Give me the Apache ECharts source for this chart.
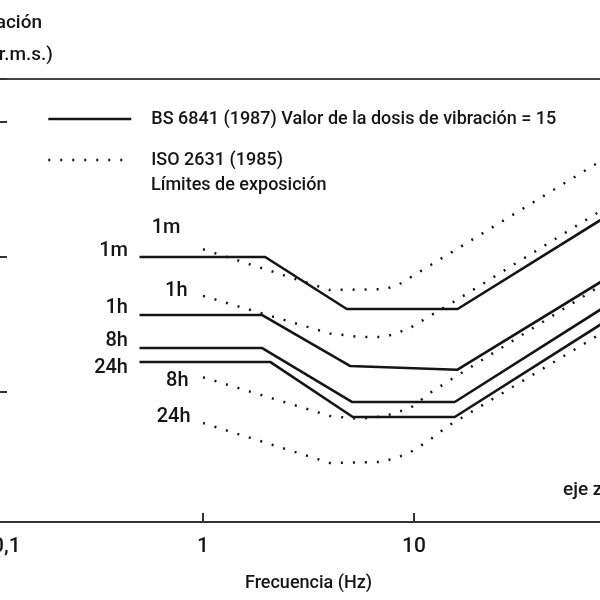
<!DOCTYPE html>
<html><head><meta charset="utf-8">
<script src="https://cdn.jsdelivr.net/npm/echarts@6/dist/echarts.min.js"></script>
<style>html,body{margin:0;padding:0;background:#fff}#c{width:600px;height:600px}</style>
</head><body><div id="c"></div>
<script>
// ---- data ----
const durations = ['1m', '1h', '8h', '24h'];
const bsName = 'BS 6841 (1987) Valor de la dosis de vibración = 15';
const isoName = 'ISO 2631 (1985)';
const isoSubtitle = 'Límites de exposición';
const xTickLabels = ['0,1', '1', '10', '100'];
const xAxisName = 'Frecuencia (Hz)';
const yAxisNameLines = ['Aceleración', '(m/s² r.m.s.)'];
const axisNote = 'eje z';

// BS 6841 (solid) : frequency (Hz) / acceleration (m/s² r.m.s.)
const bsFreq1m = [0.5, 1.97, 4.8, 16.1, 80];
const bsAcc1m = [10.0, 10.0, 4.12, 4.12, 19.6];
const bsFreq1h = [0.5, 1.9, 4.97, 16.0, 80];
const bsAcc1h = [3.72, 3.72, 1.56, 1.46, 6.8];
const bsFreq8h = [0.5, 1.9, 5.1, 15.6, 80];
const bsAcc8h = [2.12, 2.12, 0.843, 0.843, 4.26];
const bsFreq24h = [0.5, 2.08, 5.13, 15.6, 80];
const bsAcc24h = [1.67, 1.67, 0.653, 0.653, 3.3];

// ISO 2631 (dotted)
const isoFreq1m = [1, 4, 7.3, 8.4, 80];
const isoAcc1m = [11.4, 5.69, 5.79, 6.2, 53.5];
const isoFreq1h = [1, 4, 5.5, 7.3, 9.4, 11.9, 15.1, 80];
const isoAcc1h = [5.15, 2.71, 2.56, 2.56, 2.93, 3.66, 4.56, 22.9];
const isoFreq8h = [1, 4, 5.5, 7.3, 9.6, 11.9, 15.1, 80];
const isoAcc8h = [1.285, 0.664, 0.631, 0.664, 0.761, 0.983, 1.248, 6.4];
const isoFreq24h = [1, 4, 7.05, 9.3, 11.7, 14.5, 80];
const isoAcc24h = [0.589, 0.298, 0.303, 0.347, 0.434, 0.56, 2.81];

// ---- styling ----
const FONT = "Roboto, 'Liberation Sans', sans-serif";
const WEIGHT = 500;
const INK = '#151515';
const CLEAR = 'rgba(0,0,0,0)';
const bsLabelOffsets = [[0, -6], [0, -7], [0, -7], [0, 6]];
const isoLabelDist = [22, 15, 14, 12];
const isoLabelOffsets = [[0, -21], [0, -5], [0, 4], [0, -6]];

const bsSets = [[bsFreq1m, bsAcc1m], [bsFreq1h, bsAcc1h], [bsFreq8h, bsAcc8h], [bsFreq24h, bsAcc24h]];
const isoSets = [[isoFreq1m, isoAcc1m], [isoFreq1h, isoAcc1h], [isoFreq8h, isoAcc8h], [isoFreq24h, isoAcc24h]];

function buildData(freqs, accs, labelText, labelOpt) {
  return freqs.map((f, i) => {
    const item = { value: [f, accs[i]] };
    if (i === 0) item.label = Object.assign({ show: true, formatter: labelText }, labelOpt);
    return item;
  });
}

const labelBase = { color: INK, fontFamily: FONT, fontWeight: WEIGHT, fontSize: 20, position: 'left' };

const series = [];
bsSets.forEach((s, k) => {
  series.push({
    name: bsName, type: 'line', symbol: 'circle', symbolSize: 1, showSymbol: true, showAllSymbol: true, silent: true,
    lineStyle: { color: INK, width: 2.6, type: 'solid' },
    itemStyle: { color: CLEAR, borderWidth: 0 },
    label: { show: false },
    data: buildData(s[0], s[1], durations[k], Object.assign({}, labelBase, { distance: 11, offset: bsLabelOffsets[k] }))
  });
});
isoSets.forEach((s, k) => {
  series.push({
    name: isoName, type: 'line', symbol: 'circle', symbolSize: 1, showSymbol: true, showAllSymbol: true, silent: true,
    lineStyle: { color: INK, width: 2.5, type: [2, 10], cap: 'butt' },
    itemStyle: { color: CLEAR, borderWidth: 0 },
    label: { show: false },
    data: buildData(s[0], s[1], durations[k], Object.assign({}, labelBase, { distance: isoLabelDist[k], offset: isoLabelOffsets[k] }))
  });
});

const chart = echarts.init(document.getElementById('c'), null, { renderer: 'canvas' });
chart.setOption({
  animation: false,
  backgroundColor: '#fff',
  textStyle: { fontFamily: FONT, color: INK, fontWeight: WEIGHT },
  grid: {
    left: -8, top: 79, width: 633, height: 443, containLabel: false, outerBoundsMode: 'none',
    show: true, borderColor: '#444', borderWidth: 2, backgroundColor: 'transparent'
  },
  xAxis: {
    type: 'log', logBase: 10, min: 0.1, max: 100,
    name: xAxisName, nameLocation: 'middle', nameGap: 52,
    nameTextStyle: { fontFamily: FONT, fontWeight: WEIGHT, fontSize: 18, color: INK },
    axisLine: { show: true, lineStyle: { color: '#333', width: 2 } },
    axisTick: { show: true, inside: true, length: 9, lineStyle: { color: '#333', width: 2 } },
    axisLabel: {
      show: true, fontFamily: FONT, fontWeight: WEIGHT, fontSize: 21, color: INK, margin: 14, alignMinLabel: 'left',
      formatter: v => xTickLabels[Math.round(Math.log10(v)) + 1] || ''
    },
    splitLine: { show: false }, minorTick: { show: false }
  },
  yAxis: {
    type: 'log', logBase: 10, min: 0.1089, max: 208.2,
    axisLine: { show: false },
    axisTick: { show: true, inside: true, length: 15, lineStyle: { color: '#333', width: 2 } },
    axisLabel: { show: false },
    splitLine: { show: false }
  },
  legend: [
    {
      data: [bsName], left: 47, top: 103, padding: 0, itemWidth: 83, itemHeight: 40,
      selectedMode: false,
      lineStyle: { width: 2.6 },
      textStyle: { fontFamily: FONT, fontWeight: WEIGHT, fontSize: 18, color: INK, padding: [0, 0, 5, 15] }
    },
    {
      data: [isoName], left: 47, top: 144, padding: 0, itemWidth: 83, itemHeight: 40,
      selectedMode: false,
      lineStyle: { width: 2.5 },
      textStyle: { fontFamily: FONT, fontWeight: WEIGHT, fontSize: 18, color: INK, padding: [0, 0, 20, 15] }
    }
  ],
  graphic: [
    { type: 'text', right: 558, top: 14, style: { text: yAxisNameLines[0], font: WEIGHT + ' 19px ' + FONT, fill: INK } },
    { type: 'text', right: 547, top: 46, style: { text: yAxisNameLines[1], font: WEIGHT + ' 19px ' + FONT, fill: INK } },
    { type: 'text', left: 151, top: 176, style: { text: isoSubtitle, font: WEIGHT + ' 18px ' + FONT, fill: INK } },
    { type: 'text', left: 563, top: 481, style: { text: axisNote, font: WEIGHT + ' 19px ' + FONT, fill: INK } }
  ],
  series: series
});
</script></body></html>
